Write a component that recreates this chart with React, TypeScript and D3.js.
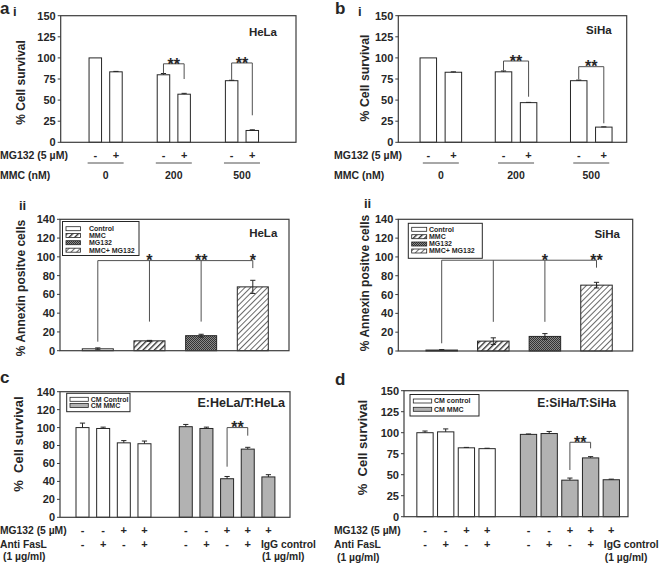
import React from 'react';
import * as d3 from 'd3';

const FONT = '"Liberation Sans", Arial, Helvetica, sans-serif';
const INK = '#262626';
const FRAME = '#3c3c3c';
const LEAD = '#505050';
const GRAY = '#b2b2b2';

// ---------------- Data ----------------
const mmcDoses = ['0', '200', '500'];
const mg132Pair = ['-', '+'];
const helaSurvival = [100, 83.5, 80, 57, 73, 14];
const helaSurvivalErr = [0, 0.5, 1.5, 1, 0.5, 0.8];
const sihaSurvival = [100, 83, 83.5, 47, 73, 18];
const sihaSurvivalErr = [0, 0.5, 1, 0.3, 0.7, 0.3];

const annexinGroups = ['Control', 'MMC', 'MG132', 'MMC+ MG132'];
const helaAnnexin = [2, 10.5, 16, 68];
const helaAnnexinErr = [1, 0.5, 1.5, 7];
const sihaAnnexin = [1, 10.5, 15.5, 70];
const sihaAnnexinErr = [0.5, 3.5, 3, 3];

const cmLegendC = ['CM Control', 'CM MMC'];
const cmLegendD = ['CM control', 'CM MMC'];
const cmGroupOfBar = [0, 0, 0, 0, 1, 1, 1, 1, 1];
const mg132Row = ['-', '-', '+', '+', '-', '-', '+', '+', '+'];
const antiFasLRow = ['-', '+', '-', '+', '-', '+', '-', '+', ''];
const helaCM = [100, 99, 83, 82, 101, 99, 43, 76, 45];
const helaCMErr = [5, 1.5, 2.5, 3, 2.5, 1.5, 2.5, 2, 2.5];
const sihaCM = [100, 101, 82, 81, 98, 99, 43.5, 70, 44];
const sihaCMErr = [2, 3.5, 0.5, 0.5, 0.5, 2.5, 2.5, 1.5, 0.7];

// significance annotations (value levels)
const helaSurvivalSig = [
  { bars: [2, 3], top: 93, ends: [81.5, 75], text: '**' },
  { bars: [4, 5], top: 94, ends: [74, 32], text: '**' },
];
const sihaSurvivalSig = [
  { bars: [2, 3], top: 96.3, ends: [85, 54], text: '**' },
  { bars: [4, 5], top: 89.6, ends: [74.5, 22.5], text: '**' },
];
const helaAnnexinLegs = [9.6, 31, 31, 88];
const helaAnnexinStars = ['', '*', '**', '*'];
const sihaAnnexinLegs = [8.2, 31, 31, 88.6];
const sihaAnnexinStars = ['', '', '*', '**'];
const helaCMSig = [{ bars: [6, 7], top: 100, ends: [56.4, 91], text: '**' }];
const sihaCMSig = [{ bars: [6, 7], top: 88.6, ends: [55.6, 81.4], text: '**' }];

// ---------------- Types ----------------
type Box = { left: number; right: number; top: number; bottom: number };
type Bracket = { bars: number[]; top: number; ends: number[] };
type Star = { bars: number[]; text: string; level: number };
type Legend = {
  x: number; y: number; w: number; h: number; rows: number[];
  swX: number; swW: number; textX: number; fs: number;
  items: { label: string; fill: string }[];
};
type Spec = {
  box: Box; yMax: number; yStep: number;
  xDomain: [number, number]; xRange: [number, number]; slots: number[];
  barW: number; values: number[]; errors: number[]; fills: string[];
  errBoth: boolean; brackets: Bracket[]; stars: Star[];
  title: { text: string; x: number; y: number; fs: number };
  ylabel: { text: string; x: number; y: number; fs: number };
  legend?: Legend; tickFs: number; starFs: number;
};

function Panel({ s, extra }: { s: Spec; extra?: (cx: number[]) => React.ReactNode }) {
  const y = d3.scaleLinear().domain([0, s.yMax]).range([s.box.bottom, s.box.top]);
  const x = d3.scaleLinear().domain(s.xDomain).range(s.xRange);
  const cx = s.slots.map((v) => x(v));
  const ticks = d3.range(0, s.yMax + 0.001, s.yStep);
  const b = s.box;
  const cap = 2.6;
  return (
    <g>
      {s.values.map((v, i) => (
        <rect key={'bar' + i} x={cx[i] - s.barW / 2} y={y(v)} width={s.barW}
          height={y(0) - y(v)} fill={s.fills[i]} stroke={INK} strokeWidth={1} />
      ))}
      {s.values.map((v, i) => {
        const e = s.errors[i];
        if (!e) return null;
        const y1 = y(v + e);
        const y0 = s.errBoth ? y(v - e) : y(v);
        return (
          <g key={'err' + i} stroke={INK} strokeWidth={1}>
            <line x1={cx[i]} x2={cx[i]} y1={y0} y2={y1} />
            <line x1={cx[i] - cap} x2={cx[i] + cap} y1={y1} y2={y1} />
            {s.errBoth && <line x1={cx[i] - cap} x2={cx[i] + cap} y1={y0} y2={y0} />}
          </g>
        );
      })}
      {s.brackets.map((br, k) => {
        const xs = br.bars.map((i) => cx[i]);
        let d = `M${d3.min(xs)},${y(br.top)}H${d3.max(xs)}`;
        xs.forEach((xx, j) => { d += `M${xx},${y(br.top)}V${y(br.ends[j])}`; });
        return <path key={'br' + k} d={d} fill="none" stroke={LEAD} strokeWidth={1} />;
      })}
      {s.stars.map((st, k) => (
        <text key={'st' + k} x={d3.mean(st.bars.map((i) => cx[i]))} y={y(st.level) + s.starFs * 0.36}
          textAnchor="middle" fontSize={s.starFs} fontWeight="bold" fill={INK}>{st.text}</text>
      ))}
      <rect x={b.left} y={b.top} width={b.right - b.left} height={b.bottom - b.top}
        fill="none" stroke={FRAME} strokeWidth={1.2} />
      {ticks.map((t) => (
        <g key={'t' + t}>
          <line x1={b.left - 3} x2={b.left} y1={y(t)} y2={y(t)} stroke={FRAME} />
          <text x={b.left - 5} y={y(t)} dy="0.36em" textAnchor="end" fontSize={s.tickFs}
            fontWeight="bold" fill={INK}>{t}</text>
        </g>
      ))}
      <text x={s.title.x} y={s.title.y} textAnchor="end" fontSize={s.title.fs} fontWeight="bold" fill={INK}>
        {s.title.text}
      </text>
      <text transform={`translate(${s.ylabel.x},${s.ylabel.y}) rotate(-90)`} dy="0.36em" textAnchor="middle"
        fontSize={s.ylabel.fs} fontWeight="bold" fill={INK} style={{ whiteSpace: 'pre' }}>
        {s.ylabel.text}
      </text>
      {s.legend && (
        <g>
          <rect x={s.legend.x} y={s.legend.y} width={s.legend.w} height={s.legend.h}
            fill="#fff" stroke={INK} strokeWidth={1} />
          {s.legend.items.map((it, k) => (
            <g key={'lg' + k}>
              <rect x={s.legend.swX} y={s.legend.rows[k] - 2} width={s.legend.swW} height={4}
                fill={it.fill} stroke={INK} strokeWidth={0.8} />
              <text x={s.legend.textX} y={s.legend.rows[k]} dy="0.34em" fontSize={s.legend.fs}
                fontWeight="bold" fill={INK}>{it.label}</text>
            </g>
          ))}
        </g>
      )}
      {extra && extra(cx)}
    </g>
  );
}

function pairSig(sig: { bars: number[]; top: number; ends: number[]; text: string }[]) {
  return {
    brackets: sig.map((g) => ({ bars: g.bars, top: g.top, ends: g.ends })),
    stars: sig.map((g) => ({ bars: g.bars, text: g.text, level: g.top })),
  };
}

function survivalRows(labelX: number) {
  return (cx: number[]) => (
    <g fontWeight="bold" fill={INK}>
      <text x={labelX} y={159} fontSize={10.5}>MG132 (5 µM)</text>
      <text x={labelX} y={179} fontSize={10.5}>MMC (nM)</text>
      {cx.map((c, i) => (
        <text key={'s' + i} x={c} y={159} fontSize={11} textAnchor="middle">{mg132Pair[i % 2]}</text>
      ))}
      {mmcDoses.map((dose, g) => {
        const mid = (cx[2 * g] + cx[2 * g + 1]) / 2;
        return (
          <g key={'d' + g}>
            <line x1={mid - 18} x2={mid + 18} y1={163} y2={163} stroke={LEAD} strokeWidth={1} />
            <text x={mid} y={179} fontSize={10.5} textAnchor="middle">{dose}</text>
          </g>
        );
      })}
    </g>
  );
}

function cmRows(labelX: number, rowY: [number, number, number]) {
  return (cx: number[]) => (
    <g fontWeight="bold" fill={INK} fontSize={10.3}>
      <text x={labelX} y={rowY[0]}>MG132 (5 µM)</text>
      <text x={labelX} y={rowY[1]}>Anti FasL</text>
      <text x={labelX + 3} y={rowY[2]}>(1 µg/ml)</text>
      {cx.map((c, i) => (
        <g key={'r' + i}>
          <text x={c} y={rowY[0]} textAnchor="middle" fontSize={11}>{mg132Row[i]}</text>
          {antiFasLRow[i] && <text x={c} y={rowY[1]} textAnchor="middle" fontSize={11}>{antiFasLRow[i]}</text>}
        </g>
      ))}
      <text x={cx[8] - 7.5} y={rowY[1]}>IgG control</text>
      <text x={cx[8] - 6.5} y={rowY[2]}>(1 µg/ml)</text>
    </g>
  );
}

const iiFills = ['#ffffff', 'url(#hatchMMC)', 'url(#checkMG)', 'url(#hatchBoth)'];

export default function App() {
  const sigAi = pairSig(helaSurvivalSig);
  const sigBi = pairSig(sihaSurvivalSig);
  const sigC = pairSig(helaCMSig);
  const sigD = pairSig(sihaCMSig);

  const ai: Spec = {
    box: { left: 60.7, right: 296, top: 15.7, bottom: 142.3 }, yMax: 150, yStep: 25,
    xDomain: [0, 7.6], xRange: [95.3, 252.3], slots: [0, 1, 3.3, 4.3, 6.6, 7.6],
    barW: 12.5, values: helaSurvival, errors: helaSurvivalErr, fills: helaSurvival.map(() => '#fff'),
    errBoth: false, brackets: sigAi.brackets, stars: sigAi.stars,
    title: { text: 'HeLa', x: 277, y: 35.7, fs: 11.5 },
    ylabel: { text: '% Cell survival', x: 20.7, y: 82.5, fs: 12 }, tickFs: 11, starFs: 16,
  };
  const bi: Spec = {
    box: { left: 398.3, right: 626.7, top: 15.7, bottom: 142.3 }, yMax: 150, yStep: 25,
    xDomain: [0, 7], xRange: [428.3, 603.8], slots: [0, 1, 3, 4, 6, 7],
    barW: 16.5, values: sihaSurvival, errors: sihaSurvivalErr, fills: sihaSurvival.map(() => '#fff'),
    errBoth: false, brackets: sigBi.brackets, stars: sigBi.stars,
    title: { text: 'SiHa', x: 611.7, y: 34, fs: 11.5 },
    ylabel: { text: '% Cell survival', x: 364.3, y: 78, fs: 12.3 }, tickFs: 11, starFs: 16,
  };
  const aii: Spec = {
    box: { left: 60, right: 289, top: 219.3, bottom: 350.7 }, yMax: 140, yStep: 20,
    xDomain: [0, 3], xRange: [97.8, 252.8], slots: [0, 1, 2, 3],
    barW: 31, values: helaAnnexin, errors: helaAnnexinErr, fills: iiFills,
    errBoth: true,
    brackets: [{ bars: [0, 1, 2, 3], top: 96, ends: helaAnnexinLegs }],
    stars: helaAnnexinStars.map((t, i) => ({ bars: [i], text: t, level: 96 })).filter((d) => d.text),
    title: { text: 'HeLa', x: 277.3, y: 236.7, fs: 11.5 },
    ylabel: { text: '% Annexin positve cells', x: 20.7, y: 288, fs: 12 }, tickFs: 11, starFs: 16,
    legend: {
      x: 62.5, y: 221.5, w: 76.5, h: 34, rows: [228.7, 235.5, 242.7, 250.2], swX: 66, swW: 14.5,
      textX: 89, fs: 7, items: annexinGroups.map((g, i) => ({ label: g, fill: iiFills[i] })),
    },
  };
  const bii: Spec = {
    box: { left: 398.3, right: 632.7, top: 219.3, bottom: 351 }, yMax: 140, yStep: 20,
    xDomain: [0, 3], xRange: [441.7, 596.5], slots: [0, 1, 2, 3],
    barW: 31.5, values: sihaAnnexin, errors: sihaAnnexinErr, fills: iiFills,
    errBoth: true,
    brackets: [{ bars: [0, 1, 2, 3], top: 96.5, ends: sihaAnnexinLegs }],
    stars: sihaAnnexinStars.map((t, i) => ({ bars: [i], text: t, level: 96.5 })).filter((d) => d.text),
    title: { text: 'SiHa', x: 620, y: 237.7, fs: 11.5 },
    ylabel: { text: '% Annexin positve cells', x: 365, y: 283, fs: 12 }, tickFs: 11, starFs: 16,
    legend: {
      x: 408.3, y: 223.3, w: 74, h: 35, rows: [229.3, 236.7, 244, 251], swX: 411.7, swW: 15,
      textX: 429, fs: 7, items: annexinGroups.map((g, i) => ({ label: g, fill: iiFills[i] })),
    },
  };
  const cmFill = (g: number) => (g === 0 ? '#fff' : GRAY);
  const cPanel: Spec = {
    box: { left: 60, right: 290, top: 391.7, bottom: 517.3 }, yMax: 140, yStep: 20,
    xDomain: [0, 9], xRange: [82.5, 268.4], slots: [0, 1, 2, 3, 5, 6, 7, 8, 9],
    barW: 13, values: helaCM, errors: helaCMErr, fills: cmGroupOfBar.map(cmFill),
    errBoth: false, brackets: sigC.brackets, stars: sigC.stars,
    title: { text: 'E:HeLa/T:HeLa', x: 285, y: 406.7, fs: 12.5 },
    ylabel: { text: '%  Cell survival', x: 18.5, y: 444, fs: 13 }, tickFs: 11, starFs: 16,
    legend: {
      x: 66.7, y: 393.3, w: 63.3, h: 18.4, rows: [399.3, 405.5], swX: 70, swW: 18.3,
      textX: 90.7, fs: 7, items: cmLegendC.map((g, i) => ({ label: g, fill: cmFill(i) })),
    },
  };
  const dPanel: Spec = {
    box: { left: 404, right: 628, top: 390.7, bottom: 516.7 }, yMax: 150, yStep: 25,
    xDomain: [0, 9], xRange: [425, 611.3], slots: [0, 1, 2, 3, 5, 6, 7, 8, 9],
    barW: 16.3, values: sihaCM, errors: sihaCMErr, fills: cmGroupOfBar.map(cmFill),
    errBoth: false, brackets: sigD.brackets, stars: sigD.stars,
    title: { text: 'E:SiHa/T:SiHa', x: 616, y: 407.3, fs: 12 },
    ylabel: { text: '%  Cell survival', x: 362.3, y: 447.5, fs: 13 }, tickFs: 11, starFs: 16,
    legend: {
      x: 410, y: 394.5, w: 69, h: 21.5, rows: [401, 409.3], swX: 413.3, swW: 18.4,
      textX: 434, fs: 7, items: cmLegendD.map((g, i) => ({ label: g, fill: cmFill(i) })),
    },
  };

  return (
    <svg width={661} height={567} viewBox="0 0 661 567"
      style={{ position: 'absolute', left: 0, top: 0, background: '#fff', fontFamily: FONT }}>
      <defs>
        <pattern id="hatchMMC" patternUnits="userSpaceOnUse" width={4} height={4} patternTransform="rotate(45)">
          <rect width={4} height={4} fill="#fff" />
          <line x1={0.7} y1={0} x2={0.7} y2={4} stroke="#222" strokeWidth={1.3} />
        </pattern>
        <pattern id="hatchBoth" patternUnits="userSpaceOnUse" width={4} height={4} patternTransform="rotate(45)">
          <rect width={4} height={4} fill="#fff" />
          <line x1={0.5} y1={0} x2={0.5} y2={4} stroke="#444" strokeWidth={0.8} />
        </pattern>
        <pattern id="checkMG" patternUnits="userSpaceOnUse" width={2} height={2}>
          <rect width={2} height={2} fill="#8a8a8a" />
          <rect width={1} height={1} fill="#333" />
          <rect x={1} y={1} width={1} height={1} fill="#333" />
        </pattern>
      </defs>
      <rect width={661} height={567} fill="#fff" />
      <g fontWeight="bold" fill={INK}>
        <text x={0} y={14} fontSize={17}>a</text>
        <text x={13} y={16} fontSize={13}>i</text>
        <text x={335} y={14} fontSize={17}>b</text>
        <text x={358} y={16} fontSize={13}>i</text>
        <text x={19} y={210} fontSize={13}>ii</text>
        <text x={364} y={208} fontSize={13}>ii</text>
        <text x={0} y={383} fontSize={17}>c</text>
        <text x={335} y={385} fontSize={17}>d</text>
      </g>
      <Panel s={ai} extra={survivalRows(0)} />
      <Panel s={bi} extra={survivalRows(334)} />
      <Panel s={aii} />
      <Panel s={bii} />
      <Panel s={cPanel} extra={cmRows(0, [533.5, 548, 560])} />
      <Panel s={dPanel} extra={cmRows(334, [534, 548, 561])} />
    </svg>
  );
}
